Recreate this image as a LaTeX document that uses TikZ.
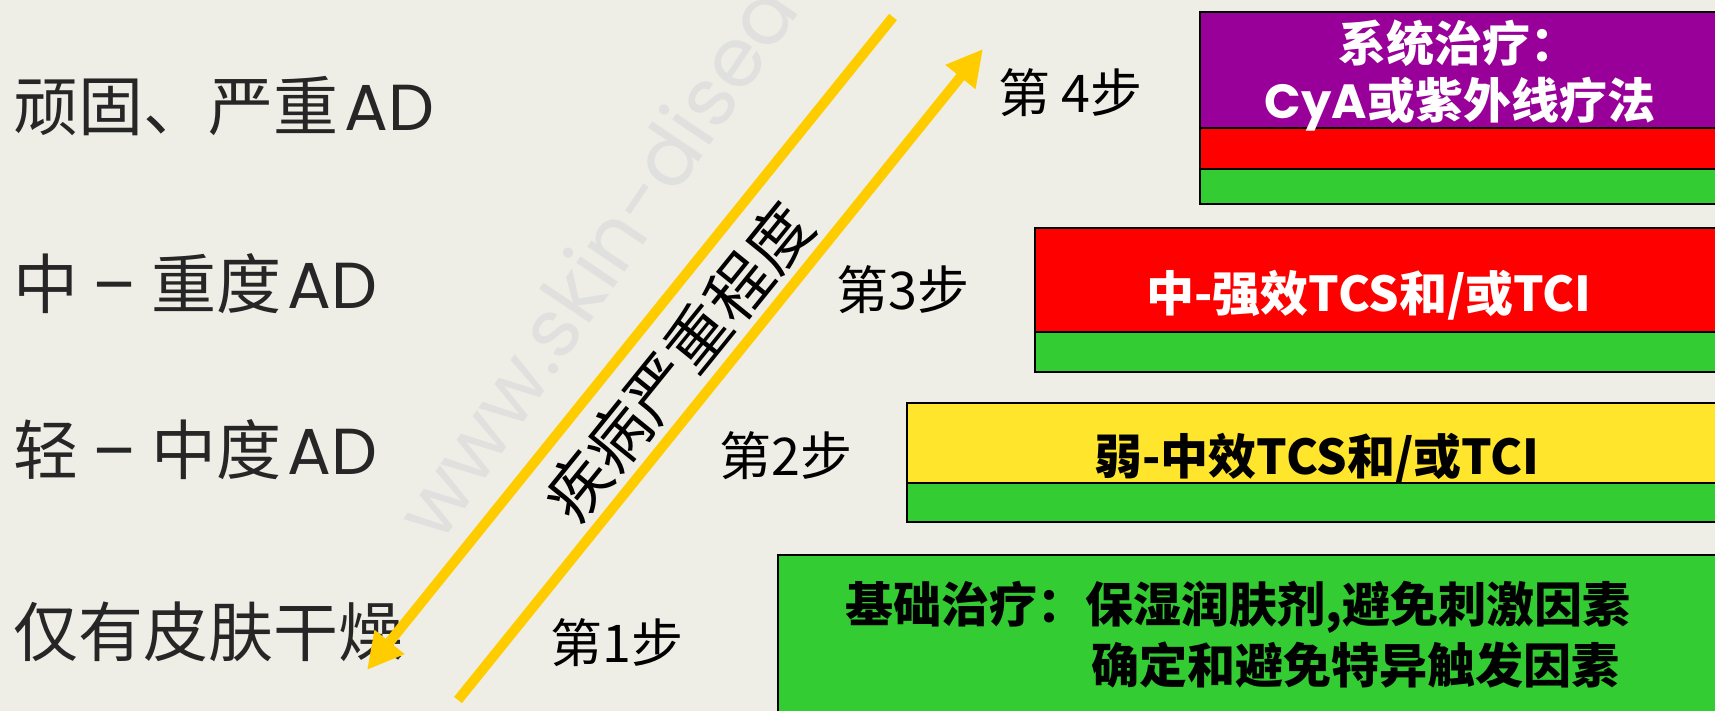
\documentclass[tikz,border=0pt]{standalone}
\usepackage{fontspec}
\setmainfont{Noto Sans CJK SC}
\newfontfamily\lat{Poppins}
\usetikzlibrary{arrows.meta}
\definecolor{bg}{HTML}{EEEEE7}
\definecolor{gold}{HTML}{FFCC00}
\definecolor{purp}{HTML}{990099}
\definecolor{redb}{HTML}{FF0000}
\definecolor{greenb}{HTML}{33CC33}
\definecolor{yell}{HTML}{FFE52C}
\definecolor{lab}{HTML}{262626}
\definecolor{wm}{HTML}{E0E0DE}
\begin{document}
\begin{tikzpicture}[x=1pt,y=-1pt,
  band/.style={draw=black, line width=2pt, inner sep=0pt, outer sep=0pt, anchor=north west},
  leftlab/.style={anchor=west, text=lab, font=\fontsize{65}{70}\selectfont, inner sep=0pt},
  steplab/.style={anchor=west, text=black, font=\fontsize{52}{56}\selectfont, inner sep=0pt},
  boxtext/.style={inner sep=0pt, font=\fontsize{48}{52}\selectfont\bfseries},
  sev/.style={line width=10pt, draw=gold},
  sevhead/.style={-{Triangle[length=36pt,width=36pt]}},
]
\useasboundingbox (0,0) rectangle (1715,711);
\fill[bg] (0,0) rectangle (1715,711);
\clip (0,0) rectangle (1715,711);

% watermark
\node[rotate=56, anchor=base west, text=wm, inner sep=0pt, font=\lat\fontsize{82}{86}\selectfont] (wmark) at (440,546) {www.skin-disea};

% left labels
\node[leftlab] (l4) at (13,106) {顽固、严重\kern6pt{\lat AD}};
\node[leftlab] (l3) at (13,284) {中 {\lat –} 重度\kern6pt{\lat AD}};
\node[leftlab] (l2) at (13,450) {轻 {\lat –} 中度\kern6pt{\lat AD}};
\node[leftlab] (l1) at (13,632) {仅有皮肤干燥};

% severity arrows
\coordinate (a1s) at (893,17);
\coordinate (a1e) at (367,670);
\coordinate (a2s) at (458,700);
\coordinate (a2e) at (983,49);
\draw[sev, sevhead] (a1s) -- (a1e);
\draw[sev, sevhead] (a2s) -- (a2e);
\node[rotate=51, inner sep=0pt, font=\fontsize{64}{68}\selectfont] (sevtext) at (678,362) {疾病严重程度};

% step labels
\node[steplab] (s4) at (998,93) {第 4步};
\node[steplab] (s3) at (836,290) {第3步};
\node[steplab] (s2) at (719,456) {第2步};
\node[steplab] (s1) at (550,643) {第1步};

% step 4 box
\node[band, fill=purp, minimum width=520pt, minimum height=116pt] (b4a) at (1200,12) {};
\node[band, fill=redb, minimum width=520pt, minimum height=41pt] (b4b) at (1200,128) {};
\node[band, fill=greenb, minimum width=520pt, minimum height=35pt] (b4c) at (1200,169) {};
\node[boxtext, text=white, anchor=west] (t4a) at (1338,43) {系统治疗：};
\node[boxtext, text=white] (t4b) at (1460,104) {{\lat CyA}或紫外线疗法};

% step 3 box
\node[band, fill=redb, minimum width=690pt, minimum height=104pt] (b3a) at (1035,228) {};
\node[band, fill=greenb, minimum width=690pt, minimum height=40pt] (b3b) at (1035,332) {};
\node[boxtext, text=white] (t3) at (1369,295) {中-强效TCS和/或TCI};

% step 2 box
\node[band, fill=yell, minimum width=820pt, minimum height=80pt] (b2a) at (907,403) {};
\node[band, fill=greenb, minimum width=820pt, minimum height=39pt] (b2b) at (907,483) {};
\node[boxtext, text=black] (t2) at (1317,458) {弱-中效TCS和/或TCI};

% step 1 box
\node[band, fill=greenb, minimum width=950pt, minimum height=170pt] (b1) at (778,555) {};
\node[boxtext, text=black, anchor=west] (t1a) at (845,607) {基础治疗：保湿润肤剂,避免刺激因素};
\node[boxtext, text=black, anchor=east] (t1b) at (1620,665) {确定和避免特异触发因素};
\end{tikzpicture}
\end{document}
